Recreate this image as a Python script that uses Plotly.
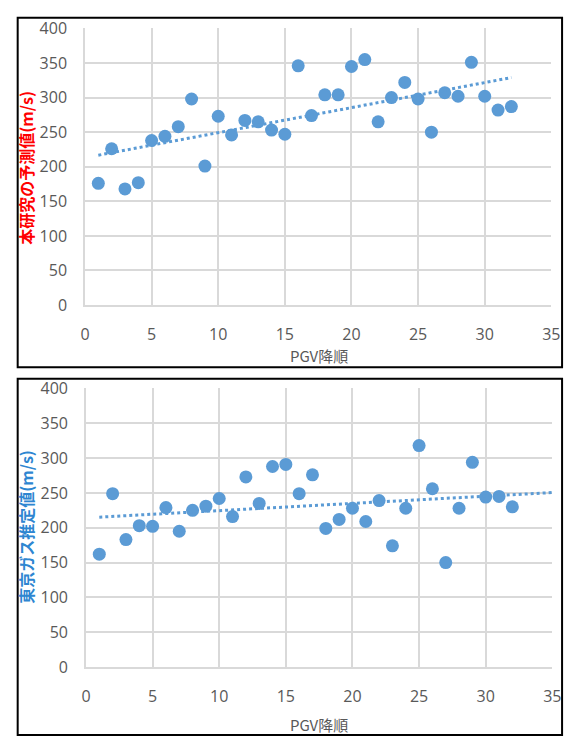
import numpy as np
import plotly.graph_objects as go
from plotly.subplots import make_subplots

# PGV rank (descending order)
rank = list(range(1, 33))

# Predicted values from this study (m/s)
pred_this_study = [176, 226, 168, 177, 238, 244, 258, 298, 201, 273,
                   246, 267, 265, 253, 247, 346, 274, 304, 304, 345,
                   355, 265, 300, 322, 298, 250, 307, 302, 351, 302,
                   282, 287]

# Tokyo Gas estimated values (m/s)
est_tokyo_gas = [162, 249, 183, 203, 202, 229, 195, 225, 231, 242,
                 216, 273, 235, 288, 291, 249, 276, 199, 212, 228,
                 209, 239, 174, 228, 318, 256, 150, 228, 294, 244,
                 245, 230]

x_ticks = [0, 5, 10, 15, 20, 25, 30, 35]
y_ticks = [0, 50, 100, 150, 200, 250, 300, 350, 400]

W, H = 574, 744
MARKER = "#5B9BD5"
GRID = "#d9d9d9"
TICK = "#595959"
FONT = "Open Sans"
CJK = "Noto Sans CJK JP"


def px(x):
    return x / W


def py(y):
    return 1 - y / H


fig = make_subplots(rows=2, cols=1)

panels = [
    dict(row=1, y=pred_this_study, trend_end=32,
         title="本研究の予測値(m/s)", color="#FF0000",
         xd=(82, 560), yd=(18, 303), ytitle_y=161, xtitle_y=355),
    dict(row=2, y=est_tokyo_gas, trend_end=35,
         title="東京ガス推定値(m/s)", color="#2E86D1",
         xd=(83, 561), yd=(389, 676), ytitle_y=531, xtitle_y=735),
]

for p in panels:
    r = p["row"]
    fig.add_trace(go.Scatter(
        x=rank, y=p["y"], mode="markers",
        marker=dict(color=MARKER, size=13, line=dict(width=0)),
        showlegend=False, hoverinfo="x+y"), row=r, col=1)

    # Least-squares linear trendline
    k, b = np.polyfit(rank, p["y"], 1)
    tx = np.array([1, p["trend_end"]])
    fig.add_trace(go.Scatter(
        x=tx, y=k * tx + b, mode="lines",
        line=dict(color=MARKER, width=3, dash="dot"),
        showlegend=False, hoverinfo="skip"), row=r, col=1)

    xk = "xaxis" if r == 1 else "xaxis2"
    yk = "yaxis" if r == 1 else "yaxis2"
    fig.layout[xk].update(
        domain=[px(p["xd"][0]), px(p["xd"][1])],
        range=[0, 35], tickvals=x_ticks, showgrid=True, gridcolor=GRID,
        gridwidth=1.5, zeroline=False, showline=True, linecolor=GRID,
        linewidth=1.5, ticks="", ticklen=0, ticklabelstandoff=14,
        tickfont=dict(family=FONT, size=16, color=TICK))
    fig.layout[yk].update(
        domain=[py(p["yd"][1]), py(p["yd"][0])],
        range=[0, 400], tickvals=y_ticks, showgrid=True, gridcolor=GRID,
        gridwidth=1.5, zeroline=False, showline=True, linecolor=GRID,
        linewidth=1.5, ticks="", ticklen=0, ticklabelstandoff=13,
        tickfont=dict(family=FONT, size=16, color=TICK))

    # Axis titles
    fig.add_annotation(
        xref="paper", yref="paper", x=px(22), y=py(p["ytitle_y"]),
        text="<b>" + p["title"] + "</b>", textangle=-90, showarrow=False,
        xanchor="center", yanchor="middle",
        font=dict(family=CJK, size=16, color=p["color"]))
    fig.add_annotation(
        xref="paper", yref="paper", x=px(322), y=py(p["xtitle_y"]),
        text="PGV降順", showarrow=False, xanchor="center", yanchor="middle",
        font=dict(family=CJK, size=15, color=TICK))

# Panel frames
fig.add_shape(type="rect", xref="paper", yref="paper",
              x0=px(13), x1=px(571), y0=py(367), y1=py(7),
              line=dict(color="black", width=2), fillcolor="rgba(0,0,0,0)")
fig.add_shape(type="rect", xref="paper", yref="paper",
              x0=px(13), x1=px(571), y0=py(746), y1=py(379),
              line=dict(color="black", width=2), fillcolor="rgba(0,0,0,0)")

fig.update_layout(
    width=W, height=H,
    margin=dict(l=0, r=0, t=0, b=0),
    paper_bgcolor="white", plot_bgcolor="white",
    font=dict(family=FONT),
)

fig.write_html("out.html")
